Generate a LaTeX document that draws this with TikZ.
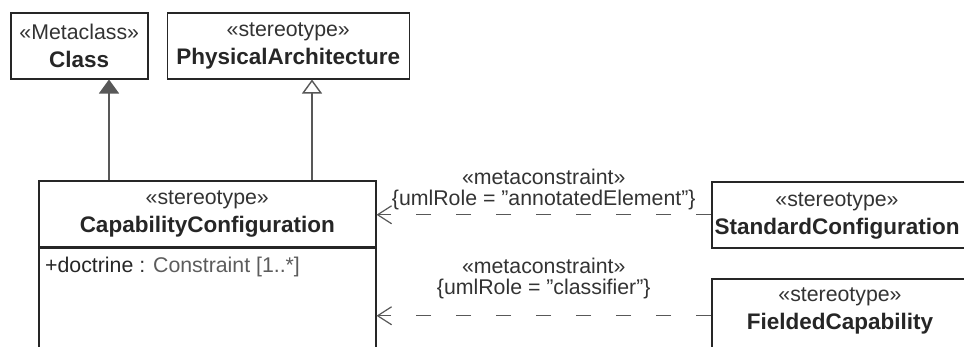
\documentclass[tikz,border=0pt]{standalone}
\usepackage{fontspec}
\setmainfont{Liberation Sans}
\usepackage{xcolor}
\usetikzlibrary{positioning,arrows.meta}

\definecolor{umlline}{HTML}{262626}
\definecolor{umlarrow}{HTML}{585858}
\definecolor{umltext}{HTML}{333333}
\definecolor{umlgray}{HTML}{5C5C5C}

\begin{document}
\begin{tikzpicture}[
    x=1pt, y=-1pt,
    base/.style={rectangle, draw=umlline, line width=1.5pt, inner sep=0pt,
                 align=center, font=\fontsize{21.3}{28}\selectfont, text=umltext},
    Bhead/.style={base, minimum height=66pt},
    Bbody/.style={base, minimum height=120pt},
    Btxt/.style={inner sep=0pt, align=center, font=\fontsize{21.3}{28}\selectfont, text=umltext},
    lbl/.style={inner sep=0pt, align=center, font=\fontsize{21.3}{21}\selectfont, text=umltext},
    inh/.style={-{Triangle[length=14pt, width=20pt]}, draw=umlarrow, fill=umlarrow, line width=1.4pt},
    real/.style={-{Triangle[open, length=14pt, width=20pt, fill=white]}, draw=umlarrow, line width=1.4pt},
    dep/.style={-{Straight Barb[length=14pt, width=18pt]}, draw=umlarrow, line width=1.2pt,
                dash pattern=on 15pt off 25pt},
]
\useasboundingbox (0,0) rectangle (964,346);

\node[Bhead, anchor=north west, minimum width=137pt] (metaclass) at (10,12)
    {«Metaclass»\\{\fontsize{22.5}{28}\selectfont\bfseries\color{umlline}Class}};

\node[Bhead, right=18pt of metaclass, minimum width=242pt] (physarch)
    {«stereotype»\\{\fontsize{22.5}{28}\selectfont\bfseries\color{umlline}PhysicalArchitecture}};

\node[Bhead, anchor=north west, minimum width=337pt] (capconf) at (38,180)
    {«stereotype»\\{\fontsize{22.5}{28}\selectfont\bfseries\color{umlline}CapabilityConfiguration}};

\node[Bbody, below=0pt of capconf, minimum width=337pt] (capbody) {};

\node[Btxt, below right=9pt and 7pt of capbody.north west] (doctrine)
    {{\color{umlline}+doctrine} : {\color{umlgray}Constraint [1..*]}};

\node[Bhead, anchor=north west, minimum width=262pt] (stdconf) at (711,181) {};
\node[Btxt] (stdtext) at (837,216)
    {«stereotype»\\{\fontsize{22.5}{28}\selectfont\bfseries\color{umlline}StandardConfiguration}};

\node[base, anchor=north west, minimum width=262pt, minimum height=74pt] (fieldcap) at (711,278) {};
\node[Btxt] (fieldtext) at (840,311)
    {«stereotype»\\{\fontsize{22.5}{28}\selectfont\bfseries\color{umlline}FieldedCapability}};

\draw[inh] ([xshift=71pt]capconf.north west) -- ([xshift=71pt]capconf.north west |- metaclass.south);
\draw[real] ([xshift=274pt]capconf.north west) -- ([xshift=274pt]capconf.north west |- physarch.south);

\draw[dep] (stdconf.west) -- node[lbl, above=4pt]
    {«metaconstraint»\\\{umlRole = "annotatedElement"\}} (stdconf.west -| capconf.east);
\draw[dep] (fieldcap.west) -- node[lbl, above=16pt]
    {«metaconstraint»\\\{umlRole = "classifier"\}} (fieldcap.west -| capbody.east);
\end{tikzpicture}
\end{document}
